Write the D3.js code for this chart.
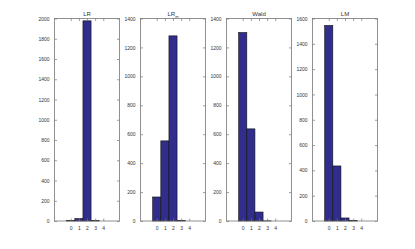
<!DOCTYPE html>
<meta charset="utf-8" />
<style>
  body { margin: 0; background: #fff; }
  text { font-family: "Liberation Sans", Arial, sans-serif; fill: #333; }
</style>
<body>
  <svg id="chart" width="415" height="249"></svg>
</body>
<script src="https://d3js.org/d3.v7.min.js"></script>
<script>
  // bin centres shared by all panels
  const bins = [0, 1, 2, 3, 4];

  // counts per statistic
  const lrCounts = [3, 24, 1977, 3, 0];
  const lrmCounts = [166, 554, 1280, 5, 0];
  const waldCounts = [1303, 637, 62, 1, 0];
  const lmCounts = [1545, 435, 24, 3, 0];

  // y axis tops
  const yMaxes = [2000, 1400, 1400, 1600];
  const yStep = 200;

  const panels = [
    { name: "LR", sub: "", counts: lrCounts },
    { name: "LR", sub: "m", counts: lrmCounts },
    { name: "Wald", sub: "", counts: waldCounts },
    { name: "LM", sub: "", counts: lmCounts },
  ];

  const svg = d3.select("#chart");

  const plotTop = 18.5, plotBottom = 221, pw = 65, gap = 21, left0 = 54.5;

  panels.forEach((p, i) => {
    const x0 = left0 + i * (pw + gap);
    const x = d3.scaleLinear().domain([-2, 6]).range([x0, x0 + pw]);
    const y = d3.scaleLinear().domain([0, yMaxes[i]]).range([plotBottom, plotTop]);
    const g = svg.append("g");

    // bars
    g.selectAll("rect")
      .data(bins.map((b, j) => ({ b: b, v: p.counts[j] })))
      .enter()
      .append("rect")
      .attr("x", (d) => x(d.b - 0.5))
      .attr("width", (d) => x(d.b + 0.5) - x(d.b - 0.5))
      .attr("y", (d) => y(d.v))
      .attr("height", (d) => plotBottom - y(d.v))
      .attr("fill", "#302d8c")
      .attr("stroke", "#111")
      .attr("stroke-width", 0.6);

    // box
    g.append("rect")
      .attr("x", x0).attr("y", plotTop)
      .attr("width", pw).attr("height", plotBottom - plotTop)
      .attr("fill", "none").attr("stroke", "#777").attr("stroke-width", 0.8);

    const yt = d3.range(0, yMaxes[i] + 1, yStep);

    // left axis, ticks inward
    const ya = g.append("g")
      .attr("transform", `translate(${x0},0)`)
      .call(d3.axisLeft(y).tickValues(yt).tickSize(-2.5).tickPadding(5).tickFormat(d3.format("d")));
    // right ticks
    const yr = g.append("g")
      .attr("transform", `translate(${x0 + pw},0)`)
      .call(d3.axisRight(y).tickValues(yt).tickSize(-2.5).tickFormat(""));
    // bottom axis
    const xa = g.append("g")
      .attr("transform", `translate(0,${plotBottom})`)
      .call(d3.axisBottom(x).tickValues(bins).tickSize(-2.5).tickPadding(5).tickFormat(d3.format("d")));
    // top ticks
    const xt = g.append("g")
      .attr("transform", `translate(0,${plotTop})`)
      .call(d3.axisTop(x).tickValues(bins).tickSize(-2.5).tickFormat(""));

    [ya, yr, xa, xt].forEach((a) => {
      a.select(".domain").remove();
      a.selectAll("line").attr("stroke", "#777").attr("stroke-width", 0.7);
      a.selectAll("text").style("font-size", "5px").attr("fill", "#444");
    });

    // title
    const t = g.append("text")
      .attr("x", x(2))
      .attr("y", plotTop - 3)
      .attr("text-anchor", "middle")
      .style("font-size", "6px")
      .text(p.name);
    if (p.sub) {
      t.append("tspan").attr("dy", 2).style("font-size", "4px").text(p.sub);
    }
  });
</script>
